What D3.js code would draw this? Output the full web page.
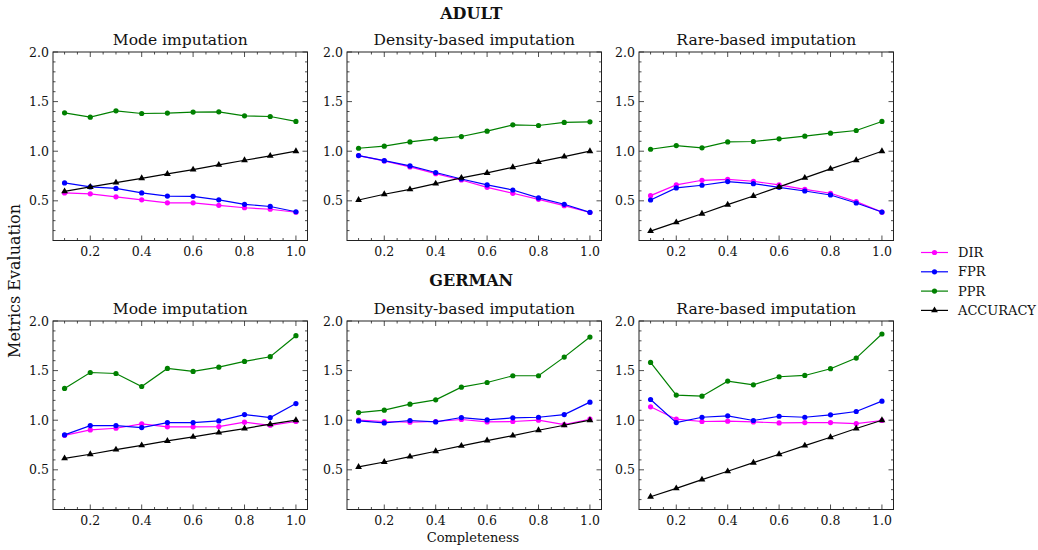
<!doctype html>
<html>
  <head>
    <script src="https://cdn.jsdelivr.net/npm/d3@7"></script>
    <style>
      body { margin: 0; background: #fff; }
      text { font-family: "DejaVu Serif", serif; fill: #111; }
    </style>
  </head>
  <body>
    <svg id="chart" width="1038" height="550"></svg>

    <script>
      // completeness levels on the x axis
      var completeness = [0.1, 0.2, 0.3, 0.4, 0.5, 0.6, 0.7, 0.8, 0.9, 1.0];
      var metrics = ["DIR", "FPR", "PPR", "ACCURACY"];
      var metricColors = ["#ff00ff", "#0000ff", "#008000", "#000000"];
      var datasets = ["ADULT", "GERMAN"];
      var methods = ["Mode imputation", "Density-based imputation", "Rare-based imputation"];
      var xTicks = [0.2, 0.4, 0.6, 0.8, 1.0];
      var yTicks = [0.5, 1.0, 1.5, 2.0];

      // ADULT
      var adultModeDIR = [0.58, 0.57, 0.54, 0.51, 0.48, 0.48, 0.455, 0.43, 0.415, 0.385];
      var adultModeFPR = [0.68, 0.64, 0.625, 0.58, 0.548, 0.545, 0.51, 0.465, 0.443, 0.39];
      var adultModePPR = [1.387, 1.343, 1.407, 1.38, 1.384, 1.394, 1.397, 1.357, 1.35, 1.30];
      var adultModeACC = [0.595, 0.64, 0.683, 0.727, 0.771, 0.815, 0.862, 0.909, 0.953, 1.0];

      var adultDensityDIR = [0.956, 0.902, 0.842, 0.774, 0.71, 0.636, 0.576, 0.515, 0.451, 0.382];
      var adultDensityFPR = [0.956, 0.905, 0.852, 0.785, 0.72, 0.66, 0.609, 0.529, 0.465, 0.384];
      var adultDensityPPR = [1.03, 1.051, 1.094, 1.125, 1.148, 1.202, 1.266, 1.259, 1.29, 1.296];
      var adultDensityACC = [0.508, 0.566, 0.616, 0.673, 0.731, 0.781, 0.838, 0.892, 0.946, 1.0];

      var adultRareDIR = [0.552, 0.66, 0.707, 0.717, 0.697, 0.66, 0.616, 0.576, 0.492, 0.386];
      var adultRareFPR = [0.508, 0.63, 0.657, 0.694, 0.673, 0.636, 0.599, 0.559, 0.478, 0.387];
      var adultRarePPR = [1.02, 1.057, 1.034, 1.094, 1.098, 1.125, 1.152, 1.182, 1.209, 1.30];
      var adultRareACC = [0.195, 0.283, 0.37, 0.461, 0.549, 0.64, 0.731, 0.822, 0.909, 1.0];

      // GERMAN
      var germanModeDIR = [0.848, 0.902, 0.919, 0.963, 0.933, 0.933, 0.936, 0.98, 0.949, 0.987];
      var germanModeFPR = [0.852, 0.946, 0.946, 0.926, 0.976, 0.976, 0.993, 1.057, 1.027, 1.168];
      var germanModePPR = [1.32, 1.481, 1.471, 1.34, 1.522, 1.492, 1.535, 1.593, 1.64, 1.852];
      var germanModeACC = [0.616, 0.657, 0.704, 0.747, 0.791, 0.832, 0.875, 0.916, 0.96, 1.0];

      var germanDensityDIR = [1.0, 0.987, 0.98, 0.987, 1.007, 0.983, 0.987, 1.0, 0.956, 1.01];
      var germanDensityFPR = [0.993, 0.973, 0.997, 0.983, 1.027, 1.003, 1.024, 1.03, 1.057, 1.182];
      var germanDensityPPR = [1.077, 1.101, 1.162, 1.205, 1.333, 1.38, 1.448, 1.448, 1.636, 1.838];
      var germanDensityACC = [0.529, 0.579, 0.633, 0.687, 0.741, 0.795, 0.845, 0.899, 0.949, 1.0];

      var germanRareDIR = [1.135, 1.01, 0.987, 0.99, 0.983, 0.973, 0.976, 0.976, 0.966, 0.997];
      var germanRareFPR = [1.209, 0.976, 1.03, 1.044, 0.997, 1.04, 1.03, 1.054, 1.088, 1.192];
      var germanRarePPR = [1.582, 1.253, 1.242, 1.394, 1.357, 1.438, 1.451, 1.519, 1.626, 1.869];
      var germanRareACC = [0.229, 0.313, 0.401, 0.485, 0.572, 0.657, 0.744, 0.828, 0.916, 1.0];

      var panelSeries = [
        [[adultModeDIR, adultModeFPR, adultModePPR, adultModeACC],
         [adultDensityDIR, adultDensityFPR, adultDensityPPR, adultDensityACC],
         [adultRareDIR, adultRareFPR, adultRarePPR, adultRareACC]],
        [[germanModeDIR, germanModeFPR, germanModePPR, germanModeACC],
         [germanDensityDIR, germanDensityFPR, germanDensityPPR, germanDensityACC],
         [germanRareDIR, germanRareFPR, germanRarePPR, germanRareACC]]
      ];

      var svg = d3.select("#chart");

      var colLeft = [53, 347, 639];
      var colWidth = 254.5;
      var rowTop = [52, 321];
      var rowHeight = 188.5;
      var suptitleY = [18.5, 285.5];

      function addTicks(g, scale, values, len, orient, w, h) {
        values.forEach(function(v) {
          var p = scale(v);
          if (orient === "x") {
            g.append("line").attr("x1", p).attr("x2", p).attr("y1", h).attr("y2", h - len);
            g.append("line").attr("x1", p).attr("x2", p).attr("y1", 0).attr("y2", len);
          } else {
            g.append("line").attr("y1", p).attr("y2", p).attr("x1", 0).attr("x2", len);
            g.append("line").attr("y1", p).attr("y2", p).attr("x1", w).attr("x2", w - len);
          }
        });
      }

      datasets.forEach(function(ds, r) {
        svg.append("text")
          .attr("x", (colLeft[0] + colLeft[2] + colWidth) / 2 - 2)
          .attr("y", suptitleY[r])
          .attr("text-anchor", "middle")
          .style("font-size", "16px")
          .style("font-weight", "bold")
          .text(ds);

        methods.forEach(function(m, c) {
          var w = colWidth, h = rowHeight;
          var g = svg.append("g").attr("transform", "translate(" + colLeft[c] + "," + rowTop[r] + ")");

          var x = d3.scaleLinear().domain([0.055, 1.045]).range([0, w]);
          var y = d3.scaleLinear().domain([0.1, 2.0]).range([h, 0]);

          // ticks, inward on all four sides
          var tg = g.append("g").attr("stroke", "#222").attr("stroke-width", 0.8);
          addTicks(tg, x, xTicks, 5, "x", w, h);
          addTicks(tg, y, yTicks, 5, "y", w, h);
          var xMinor = d3.range(0.1, 1.04, 0.05).filter(function(v) { return Math.abs(Math.round(v * 5) - v * 5) > 1e-6; });
          var yMinor = d3.range(0.1, 2.0, 0.1).filter(function(v) { return Math.abs(Math.round(v * 2) - v * 2) > 1e-6; });
          addTicks(tg, x, xMinor, 2.5, "x", w, h);
          addTicks(tg, y, yMinor, 2.5, "y", w, h);

          g.selectAll(".xl").data(xTicks).enter().append("text")
            .attr("x", function(d) { return x(d); })
            .attr("y", h + 15)
            .attr("text-anchor", "middle")
            .style("font-size", "12.5px")
            .text(function(d) { return d.toFixed(1); });

          g.selectAll(".yl").data(yTicks).enter().append("text")
            .attr("x", -4)
            .attr("y", function(d) { return y(d) + 4.5; })
            .attr("text-anchor", "end")
            .style("font-size", "12.5px")
            .text(function(d) { return d.toFixed(1); });

          g.append("text")
            .attr("x", w / 2)
            .attr("y", -7)
            .attr("text-anchor", "middle")
            .style("font-size", "15.5px")
            .text(m);

          var line = d3.line()
            .x(function(d, i) { return x(completeness[i]); })
            .y(function(d) { return y(d); });

          panelSeries[r][c].forEach(function(vals, k) {
            var col = metricColors[k];
            g.append("path")
              .attr("d", line(vals))
              .attr("fill", "none")
              .attr("stroke", col)
              .attr("stroke-width", 1.2);
            if (k === 3) {
              g.selectAll(".tri" + k).data(vals).enter().append("path")
                .attr("d", d3.symbol().type(d3.symbolTriangle).size(20))
                .attr("transform", function(d, i) { return "translate(" + x(completeness[i]) + "," + y(d) + ")"; })
                .attr("fill", col);
            } else {
              g.selectAll(".dot" + k).data(vals).enter().append("circle")
                .attr("cx", function(d, i) { return x(completeness[i]); })
                .attr("cy", function(d) { return y(d); })
                .attr("r", 2.6)
                .attr("fill", col);
            }
          });

          g.append("rect")
            .attr("width", w).attr("height", h)
            .attr("fill", "none")
            .attr("stroke", "#222")
            .attr("stroke-width", 1);
        });
      });

      svg.append("text")
        .attr("transform", "translate(20,281) rotate(-90)")
        .attr("text-anchor", "middle")
        .style("font-size", "16px")
        .text("Metrics Evaluation");

      svg.append("text")
        .attr("x", 473)
        .attr("y", 542)
        .attr("text-anchor", "middle")
        .style("font-size", "13px")
        .text("Completeness");

      // legend
      var legend = svg.append("g").attr("transform", "translate(921,252.5)");
      metrics.forEach(function(name, k) {
        var row = legend.append("g").attr("transform", "translate(0," + (k * 19.3) + ")");
        row.append("line").attr("x1", 0).attr("x2", 27).attr("stroke", metricColors[k]).attr("stroke-width", 1.2);
        if (k === 3) {
          row.append("path")
            .attr("d", d3.symbol().type(d3.symbolTriangle).size(20))
            .attr("transform", "translate(13.5,0)")
            .attr("fill", metricColors[k]);
        } else {
          row.append("circle").attr("cx", 13.5).attr("r", 2.6).attr("fill", metricColors[k]);
        }
        row.append("text")
          .attr("x", 37)
          .attr("y", 4.5)
          .style("font-size", "13px")
          .text(name);
      });
    </script>
  </body>
</html>
